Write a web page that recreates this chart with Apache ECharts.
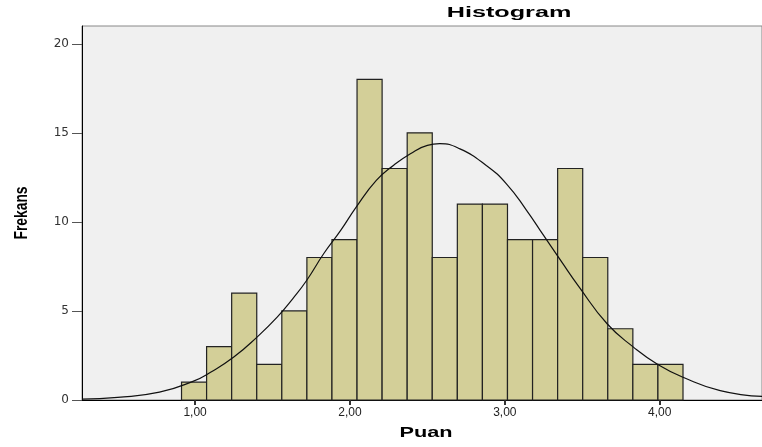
<!DOCTYPE html>
<html>
<head>
<meta charset="utf-8">
<script src="https://cdn.jsdelivr.net/npm/echarts@6/dist/echarts.min.js"></script>
<style>
  html, body { margin: 0; padding: 0; background: #fff; }
  #chart { width: 762px; height: 447px; }
</style>
</head>
<body>
<div id="chart"></div>
<script>
// histogram bins (Puan), 20 bins
const binStart = 0.9125;
const binWidth = 0.161875;
const counts = [1, 3, 6, 2, 5, 8, 9, 18, 13, 15, 8, 11, 11, 9, 9, 13, 8, 4, 2, 2];

// normal curve, points
const curveX = [0.27, 0.5, 0.77, 0.99, 1.1, 1.25, 1.4, 1.53, 1.63, 1.72, 1.83, 1.94, 2.04, 2.17, 2.28, 2.39, 2.5, 2.58, 2.71, 2.88, 3.01, 3.14, 3.25, 3.36, 3.48, 3.66, 3.83, 3.99, 4.15, 4.39, 4.66];
const curveY = [0.05, 0.15, 0.44, 1.06, 1.56, 2.41, 3.53, 4.65, 5.68, 6.71, 8.21, 9.52, 10.83, 12.33, 13.17, 13.83, 14.3, 14.39, 14.1, 13.17, 12.14, 10.65, 9.24, 7.84, 6.34, 4.28, 2.97, 1.98, 1.28, 0.53, 0.2];

// tick labels
const xTicks = [1, 2, 3, 4];
const yTicks = [0, 5, 10, 15, 20];

const bins = counts.map((c, i) => [binStart + i * binWidth, binStart + (i + 1) * binWidth, c]);
const curve = curveX.map((x, i) => [x, curveY[i]]);

const boldText = (text, x, y, size, sx, rot) => ({
  type: 'text',
  x: x,
  y: y,
  scaleX: sx,
  rotation: rot || 0,
  style: {
    text: text,
    x: 0,
    y: 0,
    textAlign: 'center',
    textVerticalAlign: 'middle',
    fontFamily: 'Liberation Sans',
    fontWeight: 'bold',
    fontSize: size,
    fill: '#000',
  },
});

const myChart = echarts.init(document.getElementById('chart'));
const option = {
  animation: false,
  graphic: [
    boldText('Histogram', 509, 13, 14, 1.8),
    boldText('Puan', 426, 433, 14, 1.55),
    boldText('Frekans', 22, 213, 18, 0.77, Math.PI / 2),
  ],
  grid: {
    left: 82, right: -2, top: 26, bottom: 47,
    show: true,
    backgroundColor: '#f0f0f0',
    borderColor: '#888',
    borderWidth: 1,
  },
  xAxis: {
    type: 'value',
    min: 0.27,
    max: 4.66,
    axisLine: { show: true, onZero: false, lineStyle: { color: '#000', width: 1 } },
    axisTick: { show: true, customValues: xTicks, length: 5, lineStyle: { color: '#333', width: 2 } },
    axisLabel: {
      customValues: xTicks,
      formatter: (v) => v.toFixed(2).replace('.', ','),
      fontFamily: 'Liberation Sans', fontSize: 12, color: '#222', margin: 7,
    },
    splitLine: { show: false },
  },
  yAxis: {
    type: 'value',
    min: 0,
    max: 21,
    axisLine: { show: true, lineStyle: { color: '#000', width: 1 } },
    axisTick: { show: true, customValues: yTicks, length: 10, lineStyle: { color: '#555' } },
    axisLabel: { customValues: yTicks, fontFamily: 'DejaVu Sans', fontSize: 12, color: '#333', margin: 13 },
    splitLine: { show: false },
  },
  series: [
    {
      type: 'custom',
      data: bins,
      renderItem: function(params, api) {
        const p0 = api.coord([api.value(0), api.value(2)]);
        const p1 = api.coord([api.value(1), 0]);
        return {
          type: 'rect',
          shape: { x: p0[0], y: p0[1], width: p1[0] - p0[0], height: p1[1] - p0[1] },
          style: { fill: '#d3cf98', stroke: '#222', lineWidth: 1.2 },
        };
      },
      z: 2,
    },
    {
      type: 'line',
      data: curve,
      smooth: true,
      symbol: 'none',
      lineStyle: { color: '#111', width: 1.2 },
      z: 3,
    },
  ],
};
myChart.setOption(option);
</script>
</body>
</html>
